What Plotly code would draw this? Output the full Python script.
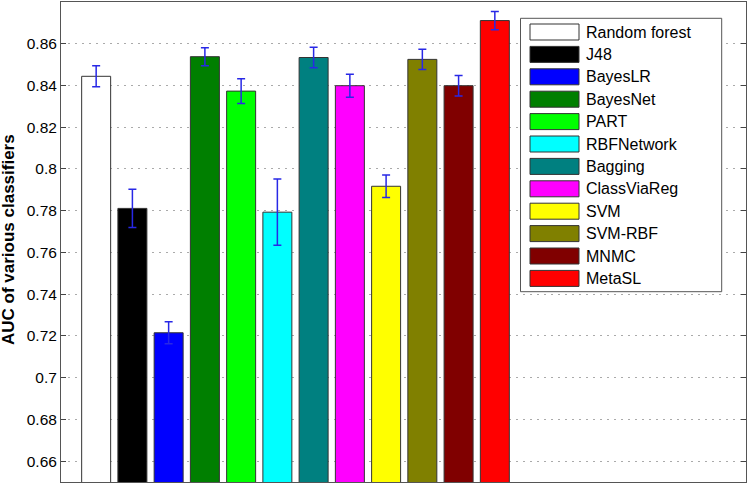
import plotly.graph_objects as go

classifiers = ["Random forest", "J48", "BayesLR", "BayesNet", "PART", "RBFNetwork",
               "Bagging", "ClassViaReg", "SVM", "SVM-RBF", "MNMC", "MetaSL"]
auc = [0.8444, 0.7811, 0.7215, 0.8538, 0.8373, 0.7793,
       0.8534, 0.8399, 0.7917, 0.8525, 0.8399, 0.8711]
auc_err = [0.0050, 0.0092, 0.0053, 0.0043, 0.0059, 0.0159,
           0.0049, 0.0055, 0.0054, 0.0049, 0.0049, 0.0044]
colors = ["#FFFFFF", "#000000", "#0000FF", "#007F00", "#00FF00", "#00FFFF",
          "#008080", "#FF00FF", "#FFFF00", "#808000", "#800000", "#FF0000"]
positions = list(range(1, len(classifiers) + 1))
ytick_vals = [0.66, 0.68, 0.70, 0.72, 0.74, 0.76, 0.78, 0.80, 0.82, 0.84, 0.86]
ytick_text = ["0.66", "0.68", "0.7", "0.72", "0.74", "0.76", "0.78", "0.8", "0.82", "0.84", "0.86"]

W, H = 749, 483
ML, MR, MT, MB = 61, 3, 2, 1
PW, PH = W - ML - MR, H - MT - MB
FONT = "Liberation Sans, Arial, Helvetica, sans-serif"


def px(x):
    return (x - ML) / PW


def py(y):
    return 1 - (y - MT) / PH


fig = go.Figure()
for i, name in enumerate(classifiers):
    fig.add_trace(go.Bar(
        x=[positions[i]], y=[auc[i]], name=name, width=0.8,
        marker=dict(color=colors[i], line=dict(color="#333333", width=1)),
        error_y=dict(type="data", array=[auc_err[i]], visible=True,
                     color="rgb(40,40,230)", thickness=1.5, width=4),
        base=0.0, showlegend=False,
    ))

shapes = []
annotations = []
# legend box
shapes.append(dict(type="rect", xref="paper", yref="paper",
                   x0=px(520.5), x1=px(721.7), y0=py(291.7), y1=py(18.3),
                   fillcolor="white", line=dict(color="#555555", width=1), layer="above"))
for i, name in enumerate(classifiers):
    cy = 32.0 + 22.4 * i
    shapes.append(dict(type="rect", xref="paper", yref="paper",
                       x0=px(530), x1=px(579), y0=py(cy + 8), y1=py(cy - 8),
                       fillcolor=colors[i], line=dict(color="#333333", width=1), layer="above"))
    annotations.append(dict(text=name, xref="paper", yref="paper",
                            x=px(584), y=py(cy), xanchor="left", yanchor="middle",
                            showarrow=False, font=dict(family=FONT, size=16, color="black")))

annotations.append(dict(text="<b>AUC of various classifiers</b>", xref="paper", yref="paper",
                        x=0, xshift=8.5 - ML, y=py(239.5), textangle=-90,
                        xanchor="center", yanchor="middle", showarrow=False,
                        font=dict(family=FONT, size=17, color="black")))

fig.update_layout(
    width=W, height=H,
    margin=dict(l=ML, r=MR, t=MT, b=MB, pad=0),
    paper_bgcolor="white", plot_bgcolor="white",
    barmode="overlay",
    shapes=shapes, annotations=annotations,
    xaxis=dict(range=[0.03, 18.93], showticklabels=False, ticks="",
               showgrid=False, zeroline=False, showline=True, mirror=True,
               linecolor="#555555", linewidth=1),
    yaxis=dict(range=[0.65, 0.88], tickvals=ytick_vals, ticktext=ytick_text,
               ticks="inside", ticklen=5, tickcolor="#444444", tickwidth=1,
               showline=True, mirror="ticks", linecolor="#555555", linewidth=1,
               showgrid=True, gridcolor="#AAAAAA", gridwidth=1, griddash="2px,5px",
               zeroline=False, tickfont=dict(family=FONT, size=15.5, color="black")),
    font=dict(family=FONT),
)

fig.write_html("out.html", config={"displayModeBar": False},
               post_script="document.body.style.margin='0px';document.body.style.overflow='hidden';")
